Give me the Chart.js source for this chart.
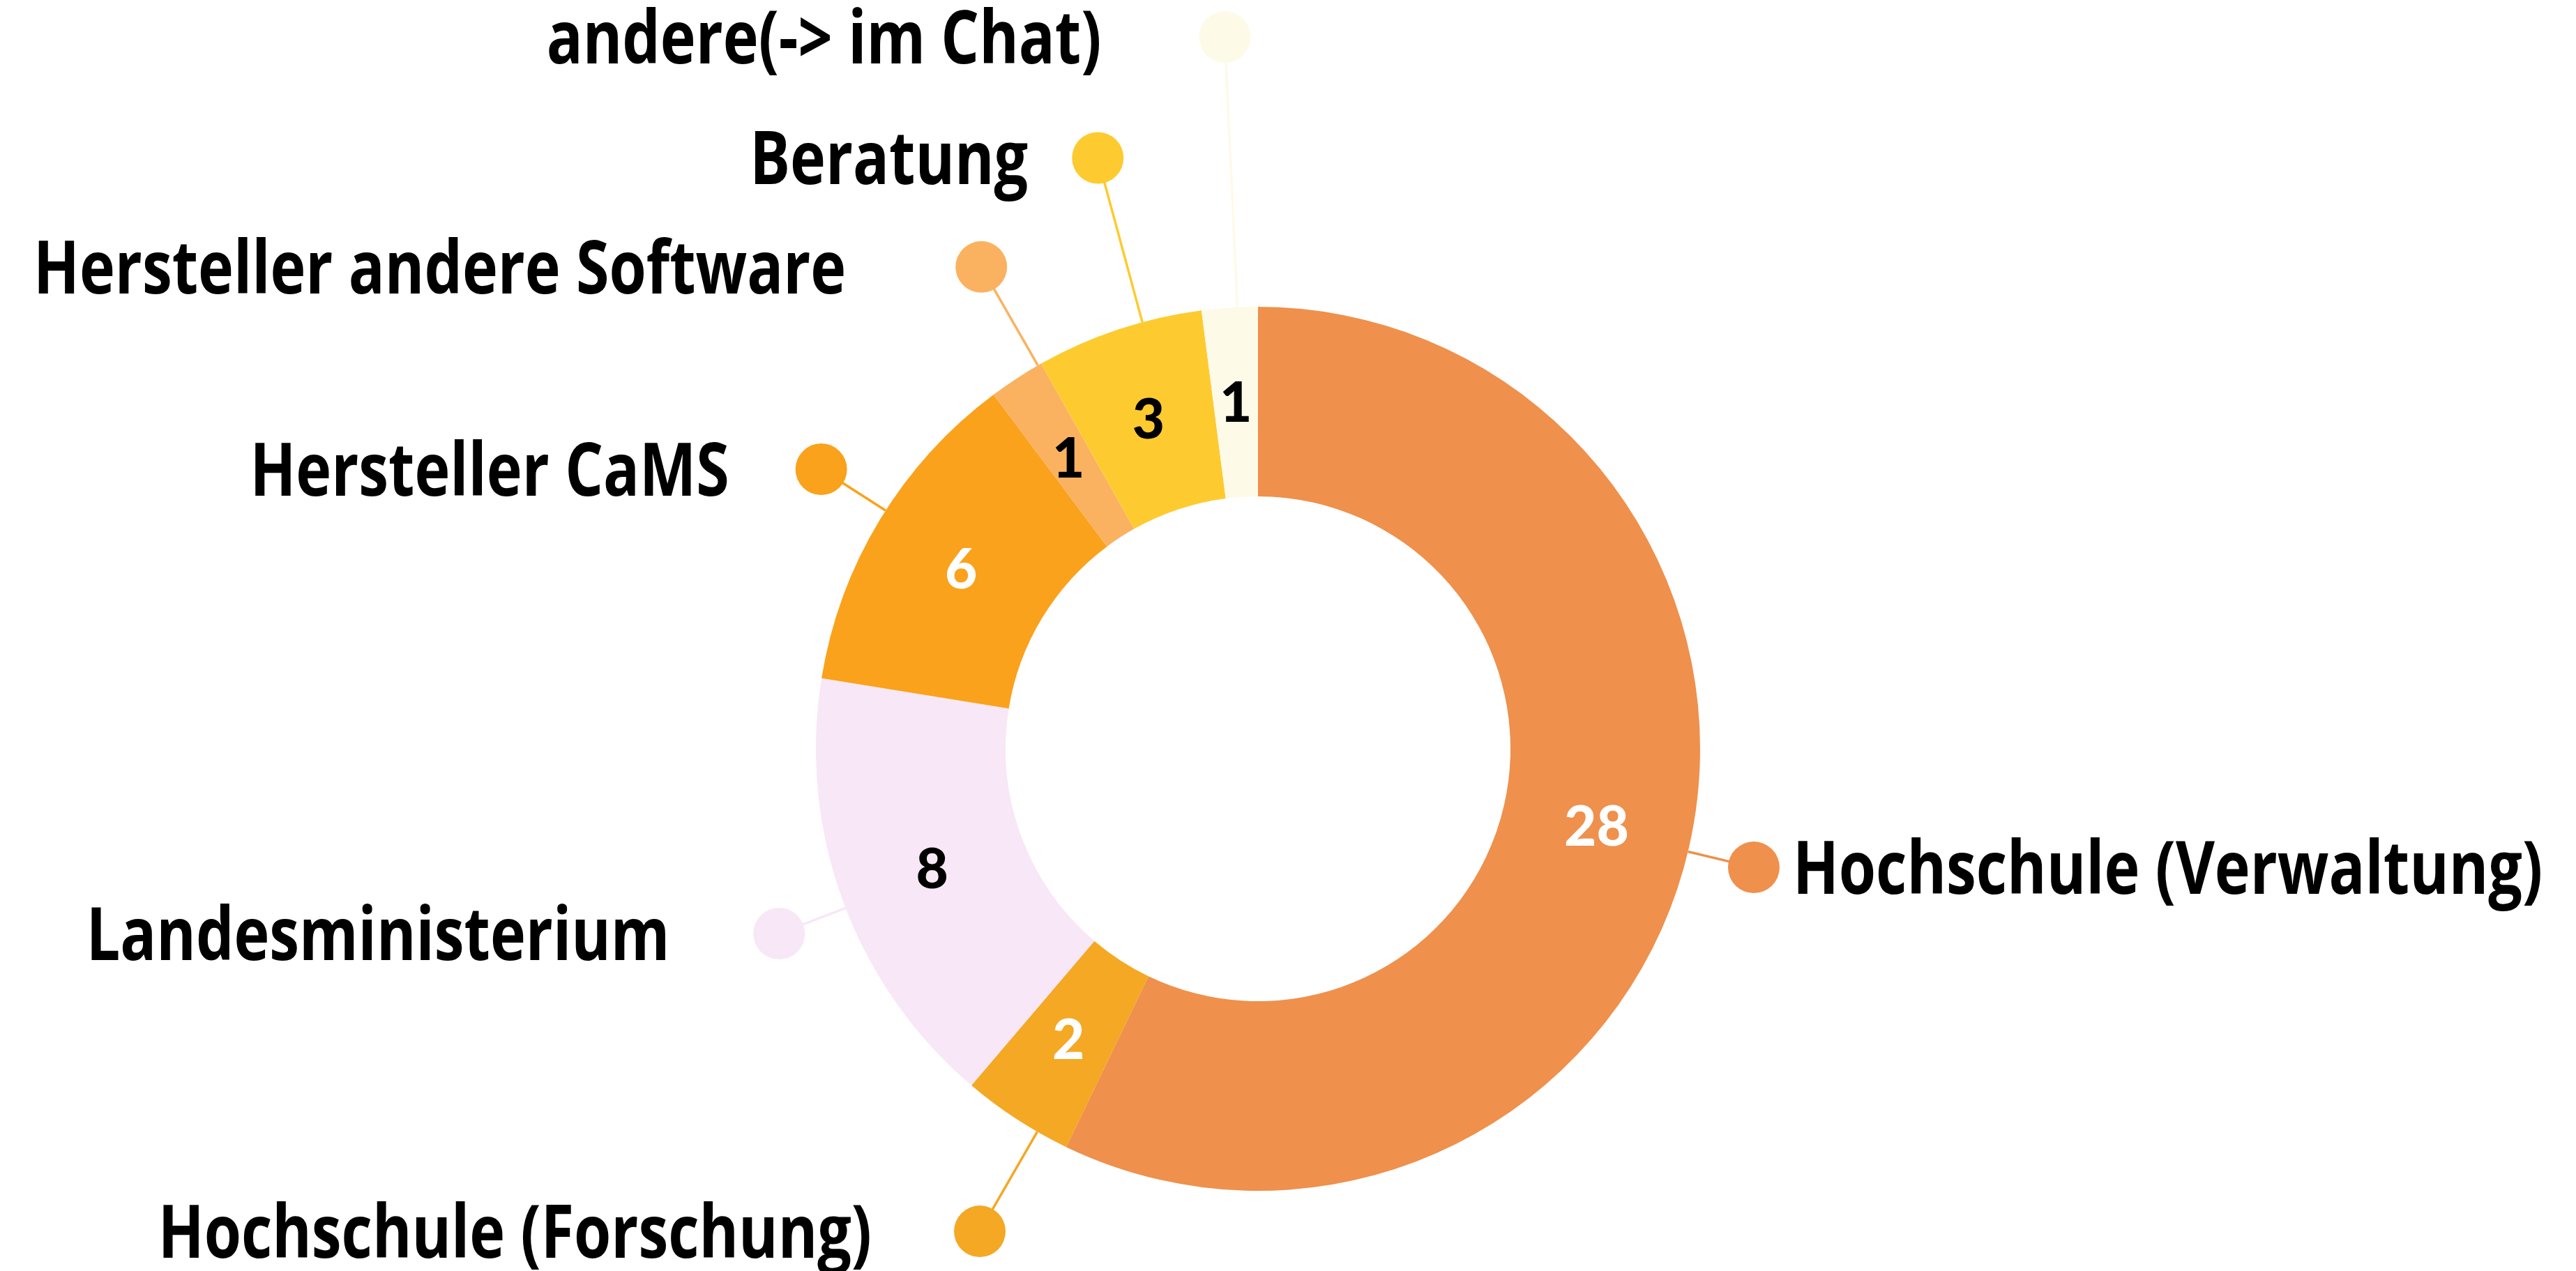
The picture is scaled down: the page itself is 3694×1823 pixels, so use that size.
<!DOCTYPE html>
<html>
<head>
<meta charset="utf-8">
<script src="https://cdn.jsdelivr.net/npm/chart.js@4.4.1/dist/chart.umd.min.js"></script>
<style>
    html, body { margin: 0; padding: 0; background: #ffffff; overflow: hidden; }
    canvas { display: block; }
</style>
</head>
<body>
<canvas id="donut" width="3694" height="1823"></canvas>
<script>
// Chart data
const categories = [
    'Hochschule (Verwaltung)',
    'Hochschule (Forschung)',
    'Landesministerium',
    'Hersteller CaMS',
    'Hersteller andere Software',
    'Beratung',
    'andere(-> im Chat)'
];
const counts = [28, 2, 8, 6, 1, 3, 1];
const sliceColors = ['#EF904C', '#F4A824', '#F7E7F7', '#FAA21B', '#FAB261', '#FDCB2F', '#FEFAE8'];
const valueColors = ['#ffffff', '#ffffff', '#000000', '#ffffff', '#000000', '#000000', '#000000'];

// Callout layout: distance of the dot (x outer radius), angle nudge in degrees, gap dot -> text
const calloutDist = [1.153, 1.26, 1.161, 1.173, 1.257, 1.385, 1.612];
const calloutNudge = [0.6, -3.1, -0.9, 1.4, 3.2, 3.2, 1.0];
const calloutGap = [19, 118, 120, 95, 157, 63, 140];
const condense = 0.82; // label font is a condensed face, squeeze Open Sans

// CALLOUT PLUGIN - value inside each slice, dot + leader line + label outside
const calloutPlugin = {
    id: 'callouts',
    afterDatasetsDraw(chart) {
        const ctx = chart.ctx;
        const meta = chart.getDatasetMeta(0);
        meta.data.forEach((arc, i) => {
            const p = arc.getProps(['x', 'y', 'startAngle', 'endAngle', 'innerRadius', 'outerRadius'], true);
            const mid = (p.startAngle + p.endAngle) / 2;

            // value in the slice
            const half = (p.innerRadius + p.outerRadius) / 2;
            ctx.save();
            ctx.fillStyle = valueColors[i];
            ctx.font = '900 80px Lato';
            ctx.textAlign = 'center';
            ctx.textBaseline = 'alphabetic';
            ctx.fillText(String(counts[i]), p.x + Math.cos(mid) * half, p.y + Math.sin(mid) * half + 28);
            ctx.restore();

            // leader line and dot
            const a = mid + calloutNudge[i] * Math.PI / 180;
            const d = p.outerRadius * calloutDist[i];
            const dx = p.x + Math.cos(a) * d;
            const dy = p.y + Math.sin(a) * d;
            ctx.save();
            ctx.strokeStyle = sliceColors[i];
            ctx.lineWidth = 3.5;
            ctx.beginPath();
            ctx.moveTo(p.x + Math.cos(a) * p.outerRadius, p.y + Math.sin(a) * p.outerRadius);
            ctx.lineTo(dx, dy);
            ctx.stroke();
            ctx.fillStyle = sliceColors[i];
            ctx.beginPath();
            ctx.arc(dx, dy, 37, 0, Math.PI * 2);
            ctx.fill();

            // label text
            const right = Math.cos(a) > 0;
            const tx = right ? dx + 37 + calloutGap[i] : dx - 37 - calloutGap[i];
            ctx.translate(tx, dy + 38);
            ctx.scale(condense, 1);
            ctx.fillStyle = '#000000';
            ctx.font = 'bold 105px "Open Sans"';
            ctx.textAlign = right ? 'left' : 'right';
            ctx.textBaseline = 'alphabetic';
            ctx.fillText(categories[i], 0, 0);
            ctx.restore();
        });
    }
};

const donutChart = new Chart(document.getElementById('donut').getContext('2d'), {
    type: 'doughnut',
    data: {
        labels: categories,
        datasets: [{
            data: counts,
            backgroundColor: sliceColors,
            borderWidth: 0
        }]
    },
    options: {
        responsive: false,
        animation: false,
        cutout: '57.1%',
        layout: {
            padding: { left: 1170, right: 1256, top: 440, bottom: 115 }
        },
        plugins: {
            legend: { display: false },
            tooltip: { enabled: false }
        }
    },
    plugins: [calloutPlugin]
});
</script>
</body>
</html>
